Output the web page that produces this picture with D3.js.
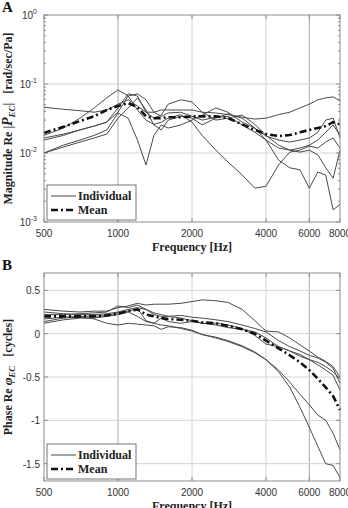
<!DOCTYPE html>
<meta charset="utf-8">
<html>
<head><title>ear canal pressure transfer</title>
    <script src="https://cdn.jsdelivr.net/npm/d3@7"></script>
    <style>
        body { margin: 0; background: #fff; }
        .grid { stroke: #d4d4d4; stroke-width: 1; }
        .gridDark { stroke: #a8a8a8; stroke-width: 1; }
        .frame { fill: none; stroke: #8c8c8c; stroke-width: 1; }
        .tick { stroke: #8c8c8c; stroke-width: 1; }
        .tickLabel { font-family: "Liberation Sans", Arial, sans-serif; font-size: 10px; fill: #333; }
        .axisLabel { font-family: "Liberation Serif", "Times New Roman", serif; font-weight: bold; font-size: 12px; fill: #222; }
        .panelLabel { font-family: "Liberation Serif", "Times New Roman", serif; font-weight: bold; font-size: 15px; fill: #111; }
        .indiv { fill: none; stroke: #4a4a4a; stroke-width: 1; }
        .mean { fill: none; stroke: #111; stroke-width: 2.6; stroke-dasharray: 7,3,2,3; }
        .legendBox { fill: #fff; stroke: #777; stroke-width: 1; }
    </style>

    <script>

        var SVGwidth = 348, SVGheight = 508;

        // frequency points (Hz), shared by all curves
        var freq = [500, 600, 700, 800, 900, 1000, 1100, 1200, 1300, 1400, 1500, 1600, 1800, 2000,
                    2200, 2500, 2800, 3200, 3600, 4000, 4500, 5000, 5500, 6000, 6500, 7000, 7500, 8000];
        var freqTicks = [500, 1000, 2000, 4000, 6000, 8000];

        // panel A, magnitude [rad/sec/Pa], one array per ear
        var mag1 = [0.046, 0.043, 0.041, 0.039, 0.042, 0.051, 0.059, 0.048, 0.039, 0.039, 0.042, 0.042, 0.042, 0.042,
                    0.039, 0.038, 0.036, 0.033, 0.031, 0.032, 0.036, 0.039, 0.045, 0.051, 0.059, 0.063, 0.065, 0.057];
        var mag2 = [0.018, 0.023, 0.032, 0.045, 0.063, 0.082, 0.067, 0.042, 0.030, 0.026, 0.028, 0.032, 0.036, 0.028,
                    0.018, 0.011, 0.0074, 0.0048, 0.0031, 0.0033, 0.0067, 0.0103, 0.011, 0.0126, 0.0118, 0.0144, 0.0165, 0.0118];
        var mag3 = [0.0165, 0.0188, 0.0216, 0.0246, 0.028, 0.039, 0.067, 0.072, 0.059, 0.039, 0.034, 0.038, 0.039, 0.034,
                    0.030, 0.033, 0.034, 0.0255, 0.020, 0.0154, 0.0079, 0.0061, 0.0057, 0.0031, 0.0053, 0.0048, 0.0015, 0.0018];
        var mag4 = [0.010, 0.013, 0.0154, 0.018, 0.0216, 0.038, 0.032, 0.0154, 0.0067, 0.018, 0.0255, 0.023, 0.0255, 0.030,
                    0.0355, 0.045, 0.039, 0.028, 0.023, 0.0176, 0.0154, 0.0144, 0.0154, 0.0165, 0.020, 0.030, 0.032, 0.0165];
        var mag5 = [0.010, 0.0122, 0.0144, 0.0165, 0.0188, 0.032, 0.045, 0.063, 0.042, 0.0255, 0.0216, 0.030, 0.034, 0.032,
                    0.0255, 0.032, 0.037, 0.032, 0.023, 0.0154, 0.0118, 0.011, 0.0118, 0.013, 0.0154, 0.020, 0.0255, 0.018];
        var mag6 = [0.0154, 0.018, 0.0216, 0.0246, 0.028, 0.045, 0.072, 0.067, 0.039, 0.032, 0.0355, 0.051, 0.059, 0.055,
                    0.039, 0.030, 0.032, 0.0355, 0.026, 0.018, 0.013, 0.011, 0.0103, 0.011, 0.0094, 0.0061, 0.0043, 0.011];
        var magMean = [0.0195, 0.024, 0.029, 0.034, 0.042, 0.048, 0.053, 0.046, 0.034, 0.032, 0.032, 0.033, 0.033, 0.034,
                       0.034, 0.034, 0.032, 0.026, 0.0216, 0.0188, 0.0176, 0.0182, 0.020, 0.0216, 0.023, 0.0246, 0.028, 0.026];
        var magTicks = [1e-3, 1e-2, 1e-1, 1];

        // panel B, phase [cycles]
        var ph1 = [0.28, 0.26, 0.25, 0.26, 0.26, 0.30, 0.32, 0.35, 0.33, 0.34, 0.34, 0.34, 0.35, 0.37,
                   0.39, 0.38, 0.36, 0.28, 0.15, 0.03, 0.02, -0.05, -0.13, -0.2, -0.27, -0.32, -0.38, -0.50];
        var ph2 = [0.22, 0.22, 0.23, 0.24, 0.25, 0.32, 0.30, 0.33, 0.28, 0.22, 0.20, 0.20, 0.21, 0.19,
                   0.18, 0.16, 0.14, 0.10, 0.06, 0.02, -0.08, -0.15, -0.2, -0.25, -0.28, -0.33, -0.40, -0.57];
        var ph3 = [0.17, 0.19, 0.20, 0.20, 0.21, 0.24, 0.26, 0.29, 0.15, 0.12, 0.18, 0.14, 0.12, 0.14,
                   0.12, 0.12, 0.10, 0.06, -0.02, -0.12, -0.15, -0.2, -0.24, -0.3, -0.36, -0.42, -0.48, -0.65];
        var ph4 = [0.14, 0.18, 0.19, 0.17, 0.12, 0.10, 0.12, 0.11, 0.10, 0.09, 0.05, 0.08, 0.07, 0.04,
                   -0.01, -0.05, -0.09, -0.15, -0.22, -0.30, -0.44, -0.62, -0.85, -1.08, -1.3, -1.5, -1.52, -1.66];
        var ph5 = [0.12, 0.16, 0.18, 0.18, 0.20, 0.22, 0.25, 0.20, 0.14, 0.12, 0.10, 0.09, 0.06, 0.03,
                   -0.01, -0.04, -0.08, -0.14, -0.21, -0.30, -0.42, -0.56, -0.7, -0.82, -0.94, -1.0, -1.15, -1.34];
        var ph6 = [0.25, 0.23, 0.22, 0.22, 0.23, 0.25, 0.28, 0.30, 0.28, 0.24, 0.22, 0.20, 0.18, 0.15,
                   0.12, 0.10, 0.07, 0.05, 0.02, -0.05, -0.15, -0.2, -0.26, -0.30, -0.33, -0.38, -0.44, -0.52];
        var phMean = [0.20, 0.20, 0.20, 0.20, 0.21, 0.23, 0.26, 0.28, 0.22, 0.20, 0.18, 0.17, 0.16, 0.15,
                      0.13, 0.12, 0.09, 0.05, 0.0, -0.08, -0.17, -0.25, -0.33, -0.42, -0.52, -0.62, -0.72, -0.88];
        var phTicks = [-1.5, -1, -0.5, 0, 0.5];

        var legendNames = ["Individual", "Mean"];

        var plotL = 44, plotR = 340;

        function drawPanel(svg, opt) {
            var x = d3.scaleLog().domain([500, 8000]).range([plotL, plotR]);
            var y = opt.y;
            var g = svg.append("g");

            // grid
            freqTicks.slice(1, -1).forEach(function (f) {
                g.append("line")
                    .attr("class", (f === 1000 || f === 6000) ? "gridDark" : "grid")
                    .attr("x1", x(f)).attr("x2", x(f))
                    .attr("y1", opt.top).attr("y2", opt.bottom);
            });
            opt.ticks.forEach(function (t) {
                if (y(t) <= opt.top + 1 || y(t) >= opt.bottom - 1) return;
                g.append("line").attr("class", "grid")
                    .attr("x1", plotL).attr("x2", plotR)
                    .attr("y1", y(t)).attr("y2", y(t));
            });

            // minor ticks for the log axis
            if (opt.log) {
                for (var d = -3; d < 0; d++) {
                    for (var k = 2; k < 10; k++) {
                        var yy = y(k * Math.pow(10, d));
                        g.append("line").attr("class", "tick").attr("x1", plotL).attr("x2", plotL + 2).attr("y1", yy).attr("y2", yy);
                        g.append("line").attr("class", "tick").attr("x1", plotR).attr("x2", plotR - 2).attr("y1", yy).attr("y2", yy);
                    }
                }
            }
            opt.ticks.forEach(function (t) {
                g.append("line").attr("class", "tick").attr("x1", plotL).attr("x2", plotL + 4).attr("y1", y(t)).attr("y2", y(t));
                g.append("line").attr("class", "tick").attr("x1", plotR).attr("x2", plotR - 4).attr("y1", y(t)).attr("y2", y(t));
            });
            freqTicks.forEach(function (f) {
                g.append("line").attr("class", "tick").attr("x1", x(f)).attr("x2", x(f)).attr("y1", opt.bottom).attr("y2", opt.bottom - 4);
                g.append("line").attr("class", "tick").attr("x1", x(f)).attr("x2", x(f)).attr("y1", opt.top).attr("y2", opt.top + 4);
            });

            // curves
            var line = d3.line()
                .x(function (d, i) { return x(freq[i]); })
                .y(function (d) { return y(d); });
            opt.series.forEach(function (s) {
                g.append("path").attr("class", "indiv").attr("d", line(s));
            });
            g.append("path").attr("class", "mean").attr("d", line(opt.mean));

            g.append("rect").attr("class", "frame")
                .attr("x", plotL).attr("y", opt.top)
                .attr("width", plotR - plotL).attr("height", opt.bottom - opt.top);

            // x tick labels
            freqTicks.forEach(function (f) {
                g.append("text").attr("class", "tickLabel")
                    .attr("x", x(f)).attr("y", opt.bottom + 15)
                    .attr("text-anchor", "middle").text(f);
            });
            g.append("text").attr("class", "axisLabel")
                .attr("x", (plotL + plotR) / 2).attr("y", opt.bottom + 29)
                .attr("text-anchor", "middle").text("Frequency [Hz]");

            // y tick labels
            opt.ticks.forEach(function (t) {
                var tx = g.append("text").attr("class", "tickLabel")
                    .attr("x", 40).attr("y", y(t) + 4)
                    .attr("text-anchor", "end");
                if (opt.log) {
                    tx.attr("x", 37);
                    tx.append("tspan").text("10");
                    tx.append("tspan").attr("dy", -5).attr("font-size", "7px")
                        .text(Math.round(Math.log10(t)) === 0 ? "0" : Math.round(Math.log10(t)));
                } else {
                    tx.text(t);
                }
            });

            // y axis label
            var yl = g.append("text").attr("class", "axisLabel")
                .attr("transform", "translate(12," + ((opt.top + opt.bottom) / 2) + ") rotate(-90)")
                .attr("text-anchor", "middle");
            opt.ylabel(yl);

            // panel letter
            g.append("text").attr("class", "panelLabel")
                .attr("x", 2).attr("y", opt.top - 3).text(opt.letter);

            // legend
            var lg = g.append("g").attr("transform", "translate(47," + (opt.bottom - 37) + ")");
            lg.append("rect").attr("class", "legendBox").attr("width", 89).attr("height", 35);
            legendNames.forEach(function (n, i) {
                lg.append("line").attr("class", i === 0 ? "indiv" : "mean")
                    .attr("x1", 4).attr("x2", 29)
                    .attr("y1", 11 + i * 14).attr("y2", 11 + i * 14);
                lg.append("text").attr("class", "axisLabel")
                    .attr("x", 31).attr("y", 15 + i * 14).text(n);
            });
        }

        function init() {
            var svg = d3.select("#chart").append("svg")
                .attr("width", SVGwidth)
                .attr("height", SVGheight);

            drawPanel(svg, {
                letter: "A",
                top: 15, bottom: 222, log: true,
                y: d3.scaleLog().domain([1e-3, 1]).range([222, 15]),
                ticks: magTicks,
                series: [mag1, mag2, mag3, mag4, mag5, mag6],
                mean: magMean,
                ylabel: function (t) {
                    t.append("tspan").text("Magnitude Re |");
                    t.append("tspan").attr("font-style", "italic").attr("font-size", "14px").text("P");
                    t.append("tspan").attr("font-style", "italic").attr("font-size", "9px").attr("dy", 3).text("EC");
                    t.append("tspan").attr("dy", -3).text("|\u2002 [rad/sec/Pa]");
                }
            });

            drawPanel(svg, {
                letter: "B",
                top: 273, bottom: 481, log: false,
                y: d3.scaleLinear().domain([-1.7, 0.7]).range([481, 273]),
                ticks: phTicks,
                series: [ph1, ph2, ph3, ph4, ph5, ph6],
                mean: phMean,
                ylabel: function (t) {
                    t.append("tspan").text("Phase Re ");
                    t.append("tspan").attr("font-style", "italic").attr("font-size", "13px").text("\u03C6");
                    t.append("tspan").attr("font-style", "italic").attr("font-size", "9px").attr("dy", 3).text("EC");
                    t.append("tspan").attr("dy", -3).text("\u2002 [cycles]");
                }
            });
        }

    </script>

</head>
<body onload="init()">
<div id="chart"></div>
</body>
</html>
